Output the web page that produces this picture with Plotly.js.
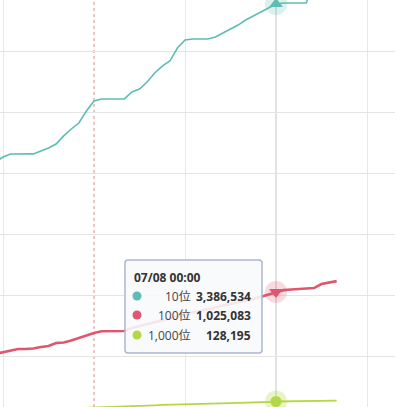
<!DOCTYPE html>
<html>
<head>
<meta charset="utf-8">
<script src="https://cdn.plot.ly/plotly-3.0.1.min.js"></script>
<style>
html,body{margin:0;padding:0;background:#fff;}
#chart{width:395px;height:407px;}
</style>
</head>
<body>
<div id="chart"></div>
<script>
// ---- data ----
const times = [
  '2024-07-06 11:00','2024-07-06 12:00','2024-07-06 13:00','2024-07-06 14:00','2024-07-06 15:00','2024-07-06 16:00',
  '2024-07-06 17:00','2024-07-06 18:00','2024-07-06 19:00','2024-07-06 20:00','2024-07-06 21:00','2024-07-06 22:00','2024-07-06 23:00',
  '2024-07-07 00:00','2024-07-07 01:00','2024-07-07 02:00','2024-07-07 03:00','2024-07-07 04:00','2024-07-07 05:00',
  '2024-07-07 06:00','2024-07-07 07:00','2024-07-07 08:00','2024-07-07 09:00','2024-07-07 10:00','2024-07-07 11:00',
  '2024-07-07 12:00','2024-07-07 13:00','2024-07-07 14:00','2024-07-07 15:00','2024-07-07 16:00','2024-07-07 17:00',
  '2024-07-07 18:00','2024-07-07 19:00','2024-07-07 20:00','2024-07-07 21:00','2024-07-07 22:00','2024-07-07 23:00',
  '2024-07-08 00:00','2024-07-08 01:00','2024-07-08 02:00','2024-07-08 03:00','2024-07-08 04:00','2024-07-08 05:00',
  '2024-07-08 06:00','2024-07-08 07:00','2024-07-08 08:00'
];
const rank10 = [
  2091000,2132000,2157000,2157000,2157000,2158000,2182000,2206000,2239000,2305000,2362000,2411000,2509000,
  2591000,2608000,2608000,2608000,2609000,2665000,2690000,2747000,2821000,2878000,2919000,3026000,
  3091000,3100000,3100000,3100000,3116000,3149000,3182000,3214000,3255000,3288000,3321000,3354000,
  3386534,3395000,3395000,3396000,3396000,3560000,3585000,3610000,3640000
];
const rank100 = [
  518000,530000,546000,559000,559000,563000,575000,583000,608000,612000,628000,649000,669000,
  690000,704000,704000,704000,706000,731000,747000,763000,780000,796000,813000,829000,
  845000,858000,870000,886000,903000,915000,927000,944000,956000,968000,985000,1008000,
  1025083,1041000,1046000,1050000,1054000,1058000,1091000,1103000,1115000
];
const rank1000 = [
  50000,52000,55000,57000,59000,61000,64000,66000,68000,71000,73000,75000,77000,
  79000,82000,83000,86000,88000,91000,92000,95000,97000,100000,101000,104000,
  106000,108000,110000,111000,112000,114000,115000,117000,118000,119000,121000,124000,
  128195,129000,130000,131000,132000,133000,134000,135000,136000
];
const seriesNames = ['10位','100位','1,000位'];
const hoverTime = '2024-07-08 00:00';
const hoverLabel = '07/08 00:00';
const markerTime = '2024-07-07 00:00';

// ---- styles ----
const colors = ['#5dbdb3','#e0566f','#b2d943'];
const halo = ['rgba(93,189,179,0.22)','rgba(224,86,111,0.22)','rgba(178,217,67,0.3)'];
const symbols = ['triangle-up','triangle-down','circle'];
const widths = [1.6,2.6,1.8];
const allSeries = [rank10, rank100, rank1000];

const W = 395, H = 407;
const px = x => x / W;
const py = y => 1 - y / H;

const traces = [];
allSeries.forEach((s, i) => {
  traces.push({x: times, y: s, type: 'scatter', mode: 'lines',
    line: {color: colors[i], width: widths[i]}, hoverinfo: 'skip'});
});
allSeries.forEach((s, i) => {
  const idx = times.indexOf(hoverTime);
  traces.push({x: [hoverTime], y: [s[idx]], type: 'scatter', mode: 'markers',
    marker: {color: halo[i], size: 22, line: {width: 0}}, hoverinfo: 'skip', cliponaxis: false});
  traces.push({x: [hoverTime], y: [s[idx]], type: 'scatter', mode: 'markers',
    marker: {color: colors[i], size: i === 2 ? 11 : 12, symbol: symbols[i], line: {width: 0}},
    hoverinfo: 'skip', cliponaxis: false});
});

// rounded tooltip box
function roundRect(x0, y0, x1, y1, r) {
  const X = v => px(v), Y = v => py(v);
  return `M ${X(x0 + r)} ${Y(y0)} L ${X(x1 - r)} ${Y(y0)} Q ${X(x1)} ${Y(y0)} ${X(x1)} ${Y(y0 + r)} ` +
    `L ${X(x1)} ${Y(y1 - r)} Q ${X(x1)} ${Y(y1)} ${X(x1 - r)} ${Y(y1)} L ${X(x0 + r)} ${Y(y1)} ` +
    `Q ${X(x0)} ${Y(y1)} ${X(x0)} ${Y(y1 - r)} L ${X(x0)} ${Y(y0 + r)} Q ${X(x0)} ${Y(y0)} ${X(x0 + r)} ${Y(y0)} Z`;
}

const shapes = [
  {type: 'line', xref: 'x', yref: 'paper', x0: markerTime, x1: markerTime, y0: 0, y1: 1,
    line: {color: '#e9b3b3', width: 1.5, dash: 'dot'}, layer: 'between'},
  {type: 'line', xref: 'x', yref: 'paper', x0: hoverTime, x1: hoverTime, y0: 0, y1: 1,
    line: {color: '#c4c4c4', width: 1}, layer: 'between'},
  {type: 'path', xref: 'paper', yref: 'paper', path: roundRect(125, 260, 262, 353, 3),
    fillcolor: 'rgba(248,249,251,0.88)', line: {color: '#aab7d2', width: 1.5}, layer: 'above'}
];

const rowY = [296, 315, 335];
const idx0 = times.indexOf(hoverTime);
const annotations = [
  {xref: 'paper', yref: 'paper', x: px(132), y: py(277), xanchor: 'left', yanchor: 'middle',
    text: '<b>' + hoverLabel + '</b>', showarrow: false,
    font: {family: 'Open Sans, Noto Sans CJK JP, sans-serif', size: 12, color: '#333'}}
];
const fmt = v => v.toLocaleString('en-US');
seriesNames.forEach((n, i) => {
  shapes.push({type: 'circle', xref: 'paper', yref: 'paper',
    x0: px(132.5), x1: px(141.5), y0: py(rowY[i] - 4.5), y1: py(rowY[i] + 4.5),
    fillcolor: colors[i], line: {width: 0}, layer: 'above'});
  annotations.push({xref: 'paper', yref: 'paper', x: px(193), y: py(rowY[i]), xanchor: 'right', yanchor: 'middle',
    text: n, showarrow: false,
    font: {family: 'Open Sans, Noto Sans CJK JP, sans-serif', size: 12, color: '#444'}});
  annotations.push({xref: 'paper', yref: 'paper', x: px(253), y: py(rowY[i]), xanchor: 'right', yanchor: 'middle',
    text: '<b>' + fmt(allSeries[i][idx0]) + '</b>', showarrow: false,
    font: {family: 'Open Sans, Noto Sans CJK JP, sans-serif', size: 12, color: '#333'}});
});

const layout = {
  width: W, height: H,
  margin: {l: 0, r: 0, t: 0, b: 0, pad: 0},
  paper_bgcolor: '#fff', plot_bgcolor: '#fff',
  showlegend: false, hovermode: false,
  xaxis: {type: 'date', range: ['2024-07-06 11:36:12', '2024-07-08 15:41:30'],
    tick0: '2024-07-06 12:00', dtick: 86400000, showgrid: true, gridcolor: '#e8e8e8', gridwidth: 1,
    showticklabels: false, zeroline: false, showline: false, ticks: ''},
  yaxis: {range: [83143, 3419322], tick0: 0, dtick: 500000, showgrid: true, gridcolor: '#e4e4e4', gridwidth: 1,
    showticklabels: false, zeroline: false, showline: false, ticks: ''},
  shapes: shapes,
  annotations: annotations
};

Plotly.newPlot('chart', traces, layout, {staticPlot: true, displayModeBar: false});
</script>
</body>
</html>
